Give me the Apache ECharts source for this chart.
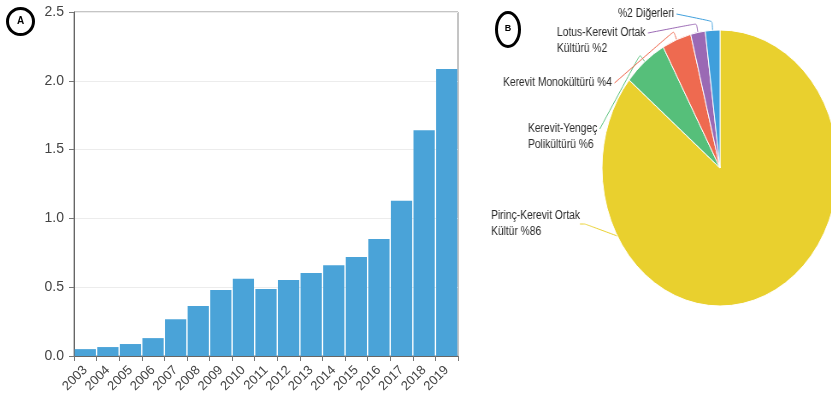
<!DOCTYPE html>
<html>
<head>
<meta charset="utf-8">
<script src="https://cdn.jsdelivr.net/npm/echarts@6/dist/echarts.min.js"></script>
<style>
  html, body { margin: 0; padding: 0; background: #fff; overflow: hidden; }
  #bars { position: absolute; left: 0; top: 0; width: 831px; height: 406px; }
  /* the pie panel is drawn as an ellipse: the panel is narrowed horizontally around the pie centre */
  #pie { position: absolute; left: 440px; top: 0; width: 560px; height: 406px;
         transform: scaleX(0.855); transform-origin: 280px 168px; }
</style>
</head>
<body>
<div id="bars"></div>
<div id="pie"></div>
<script>
// Panel A: yearly values
const years = ['2003','2004','2005','2006','2007','2008','2009','2010','2011',
               '2012','2013','2014','2015','2016','2017','2018','2019'];
const values = [0.05, 0.065, 0.087, 0.13, 0.267, 0.363, 0.48, 0.562, 0.487,
                0.552, 0.603, 0.659, 0.72, 0.85, 1.128, 1.64, 2.086];
const yTicks = [0, 0.5, 1.0, 1.5, 2.0, 2.5];

// Panel B: culture systems
const pieNames = ['Pirinç-Kerevit Ortak\nKültür %86', 'Kerevit-Yengeç\nPolikültürü %6',
                  'Kerevit Monokültürü %4', 'Lotus-Kerevit Ortak\nKültürü %2', '%2 Diğerleri'];
const pieValues = [86, 6, 4, 2, 2];
const pieColors = ['#e9d02e', '#56bf7a', '#ee6a50', '#9a69b4', '#3f9fdc'];

const SCALE_X = 0.855, PIE_CX = 280, PIE_CY = 168, PIE_R = 138, SCREEN_CX = 720;
// label anchor points (left edge, vertical middle) in page coordinates
const labelSpots = [[491, 224], [528, 137], [503, 83], [557, 41], [618, 14]];
const toPanelX = x => PIE_CX + (x - SCREEN_CX) / SCALE_X;

// mid angle of every slice, clockwise from 12 o'clock
const total = pieValues.reduce((a, b) => a + b, 0);
const midAngles = [];
pieValues.reduce((acc, v) => { midAngles.push((acc + v / 2) / total * 2 * Math.PI); return acc + v; }, 0);
const arcPoint = (ang, r) => [PIE_CX + r * Math.sin(ang), PIE_CY - r * Math.cos(ang)];

const bars = echarts.init(document.getElementById('bars'));
bars.setOption({
  animation: false,
  grid: { left: 74, right: 373, top: 12, bottom: 50, show: true,
          borderColor: '#8a8a8a', borderWidth: 1 },
  xAxis: {
    type: 'category', data: years,
    axisLine: { lineStyle: { color: '#666' } },
    axisTick: { show: true, length: 5, lineStyle: { color: '#777' } },
    axisLabel: { interval: 0, rotate: 45, fontSize: 13, color: '#444', margin: 12,
                 fontFamily: 'Liberation Sans' }
  },
  yAxis: {
    type: 'value', min: 0, max: 2.5, interval: 0.5,
    axisLine: { show: true, lineStyle: { color: '#666' } },
    axisTick: { show: true, length: 5, lineStyle: { color: '#777' } },
    axisLabel: { fontSize: 14, color: '#444', margin: 10, fontFamily: 'Liberation Sans',
                 formatter: v => yTicks.includes(v) ? v.toFixed(1) : '' },
    splitLine: { lineStyle: { color: '#ececec' } }
  },
  series: [{
    type: 'bar', data: values, barCategoryGap: '6%',
    itemStyle: { color: '#4aa3d8' }
  }],
  graphic: [
    { type: 'circle', shape: { cx: 20.5, cy: 21.5, r: 13 },
      style: { fill: '#fff', stroke: '#000', lineWidth: 3 } },
    { type: 'text', x: 20.5, y: 21.5,
      style: { text: 'A', fill: '#000', font: 'bold 10px Liberation Sans',
               align: 'center', verticalAlign: 'middle' } },
    { type: 'ellipse', shape: { cx: 508, cy: 29.5, rx: 11.5, ry: 17 },
      style: { fill: '#fff', stroke: '#000', lineWidth: 3 } },
    { type: 'text', x: 508, y: 29,
      style: { text: 'B', fill: '#000', font: 'bold 9px Liberation Sans',
               align: 'center', verticalAlign: 'middle' } }
  ]
});

const pie = echarts.init(document.getElementById('pie'));
pie.setOption({
  animation: false,
  series: [{
    type: 'pie', center: [PIE_CX, PIE_CY], radius: PIE_R,
    startAngle: 90, clockwise: true, avoidLabelOverlap: false,
    data: pieValues.map((v, i) => ({ value: v, name: pieNames[i],
                                     itemStyle: { color: pieColors[i] } })),
    itemStyle: { borderColor: '#fff', borderWidth: 1 },
    label: { show: true, position: 'outside', formatter: '{b}', fontSize: 12,
             lineHeight: 16, color: '#2a2a2a', fontFamily: 'Liberation Sans' },
    labelLine: { show: true, smooth: 0.15, length: 10, length2: 6,
                 minTurnAngle: 0, maxSurfaceAngle: 180,
                 lineStyle: { width: 1 } },
    labelLayout: p => {
      const i = p.dataIndex;
      const left = toPanelX(labelSpots[i][0]);
      const out = { x: left, y: labelSpots[i][1], align: 'left', verticalAlign: 'middle' };
      if (i > 0) {
        // guide line: from the label's first text line to the middle of the slice's arc
        const h = p.labelRect.height;
        const start = [left + p.labelRect.width + 3, labelSpots[i][1] - h / 2 + 8];
        out.labelLinePoints = [arcPoint(midAngles[i], PIE_R),
                               arcPoint(midAngles[i], PIE_R + 9), start];
      }
      return out;
    }
  }]
});
</script>
</body>
</html>
